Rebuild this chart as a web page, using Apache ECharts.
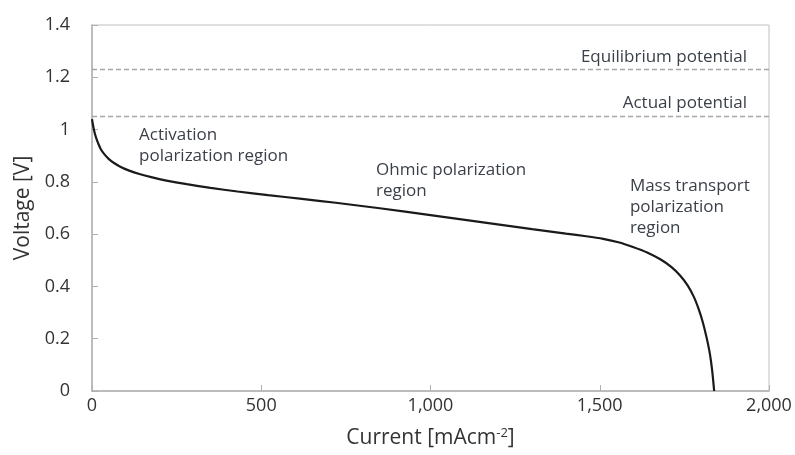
<!DOCTYPE html>
<html>
<head>
<meta charset="utf-8">
<script src="https://cdn.jsdelivr.net/npm/echarts@6/dist/echarts.min.js"></script>
<style>html,body{margin:0;padding:0;background:#fff}#c{width:795px;height:455px}</style>
</head>
<body>
<div id="c"></div>
<script>
const currentValues = [0, 4, 8, 13, 18, 26, 37, 50, 65, 85, 110, 140, 175, 220, 280, 350, 430, 520, 620, 720, 850, 1000, 1150, 1300, 1400, 1460, 1510, 1555, 1598, 1640, 1680, 1712, 1738, 1760, 1778, 1792, 1804, 1815, 1825, 1832, 1838];
const voltageValues = [1.04, 1.01, 0.987, 0.965, 0.948, 0.925, 0.905, 0.887, 0.872, 0.857, 0.843, 0.83, 0.818, 0.805, 0.791, 0.777, 0.763, 0.749, 0.735, 0.72, 0.699, 0.673, 0.646, 0.619, 0.602, 0.592, 0.582, 0.569, 0.551, 0.53, 0.503, 0.474, 0.441, 0.403, 0.36, 0.314, 0.265, 0.208, 0.145, 0.08, 0];
const equilibriumPotential = 1.229;
const actualPotential = 1.05;
const xTicks = [0, 500, 1000, 1500, 2000];
const yTicks = [0, 0.2, 0.4, 0.6, 0.8, 1, 1.2, 1.4];
const annotations = [
  { text: 'Equilibrium potential', x: 1935, y: 1.278, align: 'right' },
  { text: 'Actual potential', x: 1935, y: 1.102, align: 'right' },
  { text: 'Activation\npolarization region', x: 139, y: 0.979, align: 'left' },
  { text: 'Ohmic polarization\nregion', x: 839, y: 0.845, align: 'left' },
  { text: 'Mass transport\npolarization\nregion', x: 1589, y: 0.784, align: 'left' }
];

const FONT = '"Open Sans", sans-serif';
const TXT = '#333333';
const LINE_H = 21;
const chart = echarts.init(document.getElementById('c'));
const curve = currentValues.map((c, i) => [c, voltageValues[i]]);

chart.setOption({
  animation: false,
  backgroundColor: '#ffffff',
  grid: { left: 92, right: 26, top: 25, bottom: 64, show: true, borderColor: '#c0c0c0', borderWidth: 1 },
  xAxis: {
    type: 'value', min: xTicks[0], max: xTicks[xTicks.length - 1], interval: xTicks[1] - xTicks[0],
    name: 'Current [mAcm{sup|-2}]',
    nameLocation: 'middle', nameGap: 36,
    nameTextStyle: { fontFamily: FONT, fontSize: 21, color: TXT,
      rich: { sup: { fontFamily: FONT, fontSize: 13, color: TXT, verticalAlign: 'top', padding: [0, 0, 10, 0] } } },
    axisLine: { lineStyle: { color: '#b0b0b0', width: 1.5 } },
    axisTick: { inside: true, length: 6, lineStyle: { color: '#b0b0b0' } },
    axisLabel: { fontFamily: FONT, fontSize: 18, color: TXT, margin: 6,
      formatter: v => v.toLocaleString('en-US') },
    splitLine: { show: false }
  },
  yAxis: {
    type: 'value', min: yTicks[0], max: yTicks[yTicks.length - 1], interval: 0.2,
    name: 'Voltage [V]', nameLocation: 'middle', nameGap: 56,
    nameTextStyle: { fontFamily: FONT, fontSize: 21, color: TXT },
    axisLine: { show: true, lineStyle: { color: '#b0b0b0', width: 1.5 } },
    axisTick: { show: true, inside: true, length: 6, lineStyle: { color: '#b0b0b0' } },
    axisLabel: { fontFamily: FONT, fontSize: 18, color: TXT, margin: 22,
      formatter: v => String(Math.round(v * 10) / 10) },
    splitLine: { show: false }
  },
  series: [{
    type: 'line',
    data: curve,
    smooth: 0.25,
    showSymbol: false,
    lineStyle: { color: '#1a1a1a', width: 2.2 },
    markLine: {
      silent: true, symbol: 'none', label: { show: false },
      lineStyle: { type: [5, 3], color: '#a6a6a6', width: 1.3 },
      data: [{ yAxis: equilibriumPotential }, { yAxis: actualPotential }]
    }
  }]
});

const gfx = annotations.map(a => {
  const p = chart.convertToPixel({ gridIndex: 0 }, [a.x, a.y]);
  return {
    type: 'text', x: p[0], y: p[1] - LINE_H / 2,
    style: { text: a.text, fill: '#3a3f48', font: '17px ' + FONT, lineHeight: LINE_H,
      align: a.align, verticalAlign: 'top' }
  };
});
chart.setOption({ graphic: gfx });
</script>
</body>
</html>
